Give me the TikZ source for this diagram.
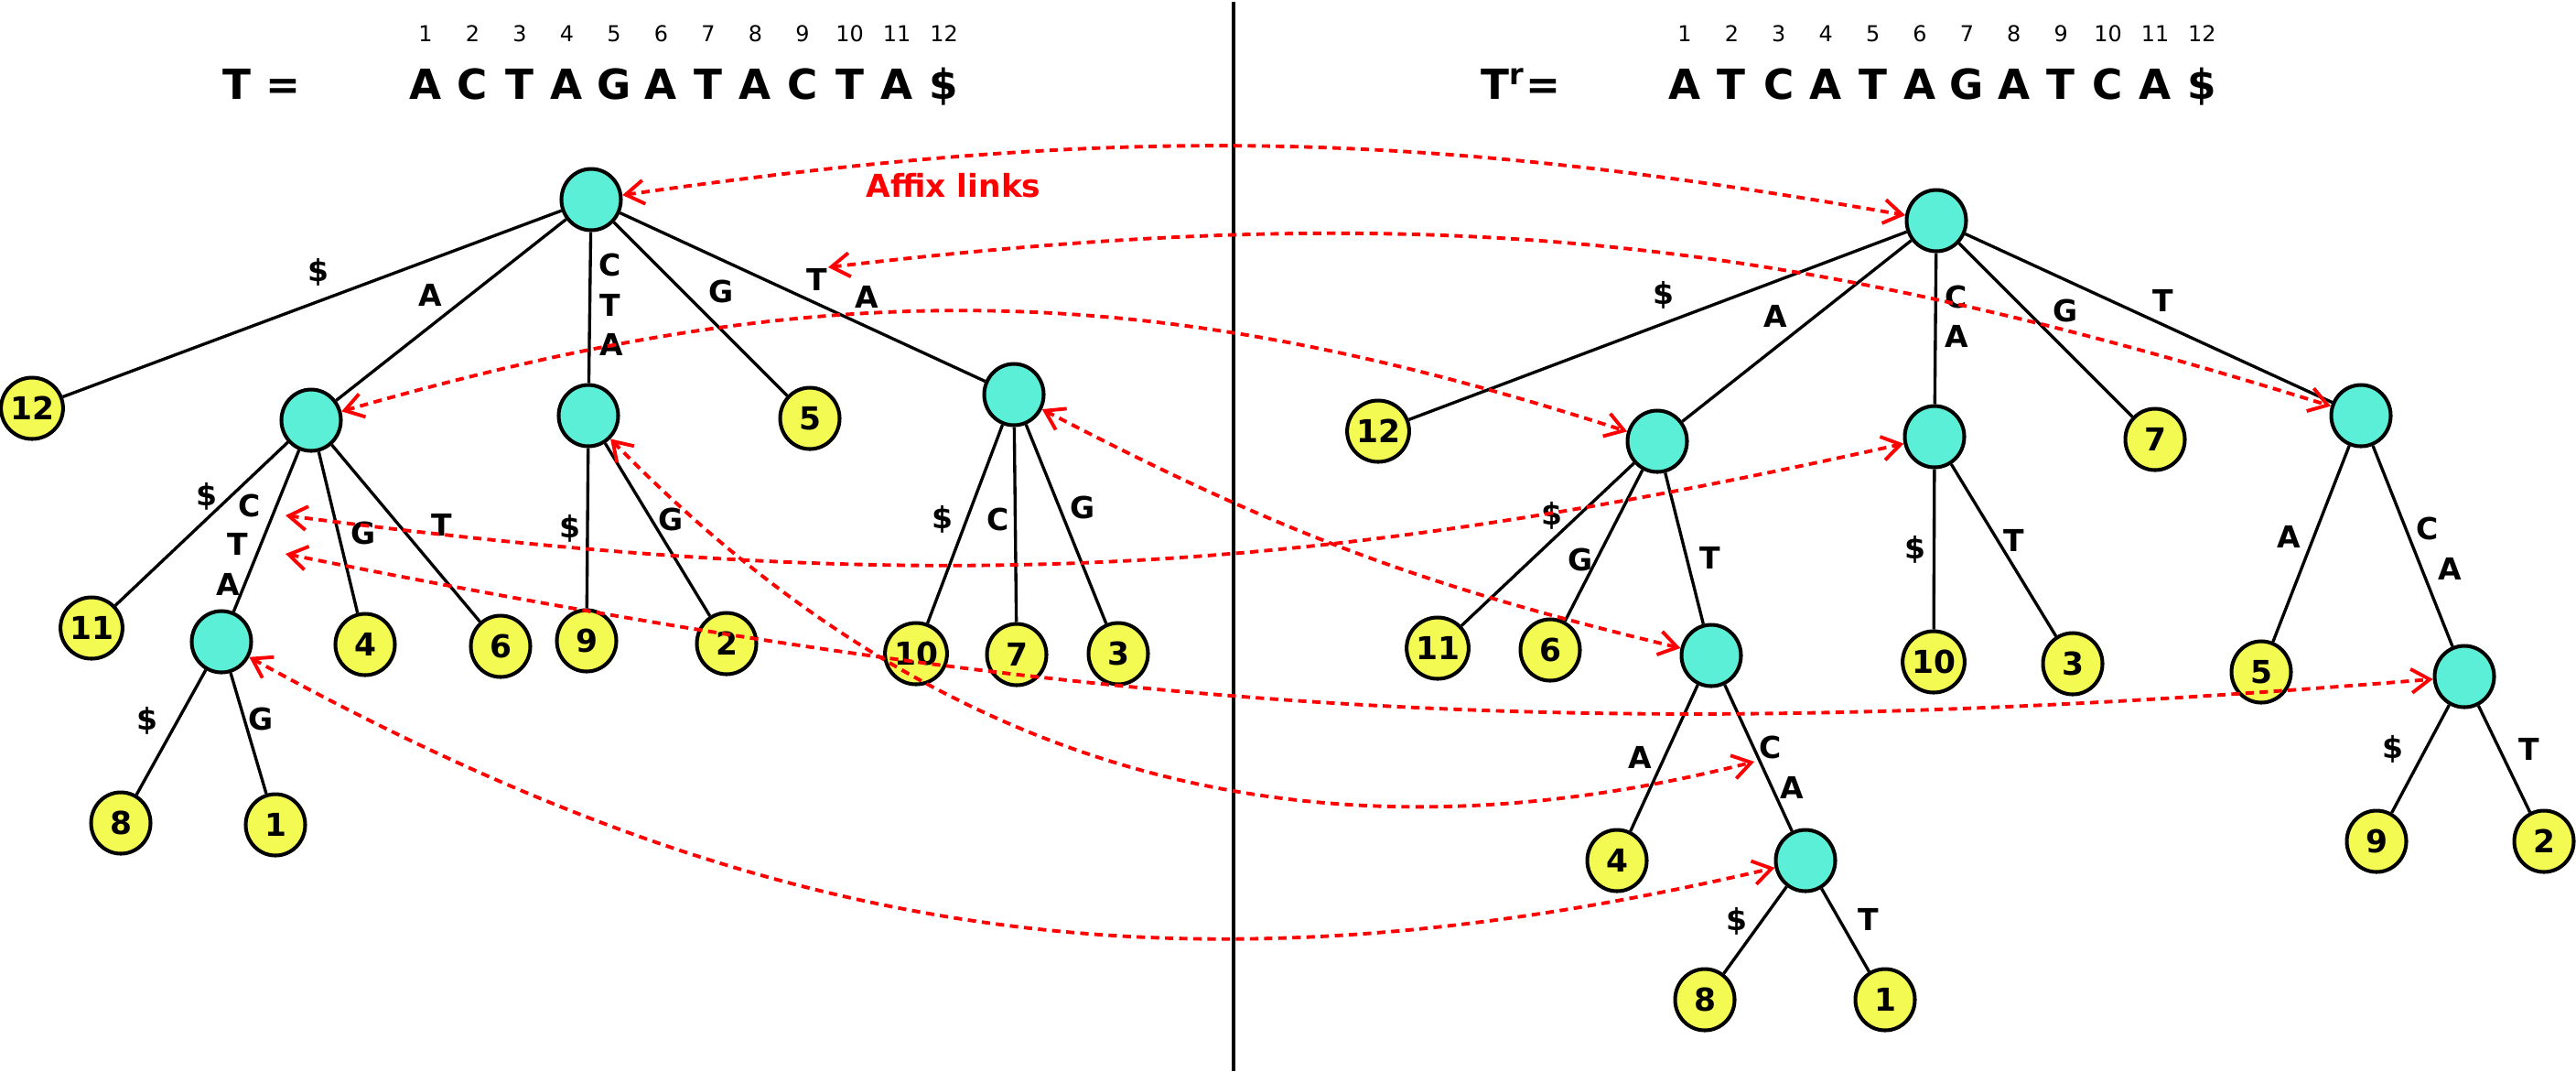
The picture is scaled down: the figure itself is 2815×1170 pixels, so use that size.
\documentclass[tikz,border=0pt]{standalone}
\usepackage{fontspec}
\setmainfont{DejaVu Sans}
\usetikzlibrary{arrows.meta, shapes.geometric}
\definecolor{knotcol}{RGB}{90,239,214}
\definecolor{leafcol}{RGB}{243,250,82}
\tikzset{
  knot/.style={ellipse, draw, line width=1.15pt, fill=knotcol, minimum width=6.5mm, minimum height=6.7mm, inner sep=0pt},
  leaf/.style={knot, fill=leafcol, font=\fontsize{9.8pt}{11pt}\selectfont\bfseries, text height=7.1pt, text depth=0pt},
  branch/.style={line width=0.95pt},
  lbl/.style={inner sep=0pt, font=\fontsize{9.4pt}{11pt}\selectfont\bfseries, text height=6.85pt, text depth=0pt},
  head/.style={anchor=base, inner sep=0pt, font=\fontsize{12.9pt}{15pt}\selectfont\bfseries},
  idx/.style={anchor=base, inner sep=0pt, font=\fontsize{6.8pt}{8pt}\selectfont},
  affix/.style={<->, red, line width=1.1pt, dash pattern=on 2.6pt off 1.8pt}
}

\begin{document}
\begin{tikzpicture}[x=0.1mm, y=-0.1mm, >={Straight Barb[length=2mm,width=2.6mm]}]
\useasboundingbox (0,0) rectangle (2815,1170);

% strings
\node[head] (tfw) at (286,108) {T =};
\node[head] (trev) at (1662,108) {T\textsuperscript{r}=};
\foreach \c [count=\i] in {A,C,T,A,G,A,T,A,C,T,A,\$} {
  \node[head] (fw\i) at ({465+51.5*(\i-1)},108) {\c};
  \node[idx] (fwn\i) at ({465+51.5*(\i-1)},45) {\i};
}
\foreach \c [count=\i] in {A,T,C,A,T,A,G,A,T,C,A,\$} {
  \node[head] (rv\i) at ({1841+51.4*(\i-1)},108) {\c};
  \node[idx] (rvn\i) at ({1841+51.4*(\i-1)},45) {\i};
}
\node[lbl, text=red, font=\fontsize{9.8pt}{11pt}\selectfont\bfseries] (afx) at (1042,203) {Affix links};

\coordinate (divtop) at (1348,2);
\coordinate (divbot) at (1348,1170);
\draw[line width=1pt] (divtop) -- (divbot);

% tree of T
\node[knot] (lr) at (646,218) {};
\node[leaf] (l12) at (35,446) {12};
\node[knot] (la) at (340,459) {};
\node[knot] (lcta) at (643,454) {};
\node[leaf] (l5) at (885,457) {5};
\node[knot] (lta) at (1108,431) {};
\node[leaf] (l11) at (100,686) {11};
\node[knot] (lacta) at (242,701) {};
\node[leaf] (l4) at (399,704) {4};
\node[leaf] (l6) at (547,706) {6};
\node[leaf] (l9) at (641,700) {9};
\node[leaf] (l2) at (794,703) {2};
\node[leaf] (l10) at (1001,714) {10};
\node[leaf] (l7) at (1111,715) {7};
\node[leaf] (l3) at (1222,714) {3};
\node[leaf] (l8) at (132,899) {8};
\node[leaf] (l1) at (301,901) {1};

\foreach \a/\b in {lr/l12, lr/la, lr/lcta, lr/l5, lr/lta, la/l11, la/lacta, la/l4, la/l6,
    lcta/l9, lcta/l2, lta/l10, lta/l7, lta/l3, lacta/l8, lacta/l1}
  \draw[branch] (\a) -- (\b);

% tree of T^r
\node[knot] (rr) at (2116,241) {};
\node[leaf] (r12) at (1506,471) {12};
\node[knot] (ra) at (1811,482) {};
\node[knot] (rca) at (2114,477) {};
\node[leaf] (r7) at (2355,480) {7};
\node[knot] (rt) at (2580,454) {};
\node[leaf] (r11) at (1571,708) {11};
\node[leaf] (r6) at (1694,710) {6};
\node[knot] (rat) at (1870,716) {};
\node[leaf] (r10) at (2113,723) {10};
\node[leaf] (r3) at (2265,725) {3};
\node[leaf] (r5) at (2471,734) {5};
\node[knot] (rtca) at (2693,739) {};
\node[leaf] (r4) at (1767,940) {4};
\node[knot] (ratca) at (1973,940) {};
\node[leaf] (r9) at (2597,919) {9};
\node[leaf] (r2) at (2780,919) {2};
\node[leaf] (r8) at (1863,1092) {8};
\node[leaf] (r1) at (2060,1092) {1};

\foreach \a/\b in {rr/r12, rr/ra, rr/rca, rr/r7, rr/rt, ra/r11, ra/r6, ra/rat, rca/r10, rca/r3,
    rt/r5, rt/rtca, rat/r4, rat/ratca, ratca/r8, ratca/r1, rtca/r9, rtca/r2}
  \draw[branch] (\a) -- (\b);

% edge letters
\foreach \x/\y/\t [count=\i] in {348/295/\$, 470/322/A, 667/289/C, 667/333/T, 668/376/A, 788/318/G,
    893/305/T, 947/324/A, 226/540/\$, 273/552/C, 260/594/T, 249/638/A, 397/582/G, 483/573/T,
    623/575/\$, 733/567/G, 1030/565/\$, 1091/567/C, 1183/554/G, 161/785/\$, 285/785/G}
  \node[lbl] (le\i) at (\x,\y) {\t};
\foreach \x/\y/\t [count=\i] in {1818/320/\$, 1940/345/A, 2138/324/C, 2138/367/A, 2257/339/G,
    2364/328/T, 1696/561/\$, 1727/611/G, 1869/609/T, 2093/598/\$, 2201/590/T, 2501/586/A,
    2653/577/C, 2677/621/A, 1792/827/A, 1935/816/C, 1958/860/A, 1898/1004/\$, 2042/1004/T,
    2615/816/\$, 2764/818/T}
  \node[lbl] (re\i) at (\x,\y) {\t};

% affix links
\coordinate (lT) at (905,292);
\coordinate (lAC) at (312,563);
\coordinate (lACT) at (312,605);
\coordinate (rATC) at (1917,832);
\draw[affix] (lr) to[bend left=9] (rr);
\draw[affix] (lT) to[bend left=12] (rt);
\draw[affix] (la) to[bend left=17] (ra);
\draw[affix] (lAC) to[bend right=10] (rca);
\draw[affix] (lACT) to[bend right=8] (rtca);
\draw[affix] (lcta) to[bend right=30] (rATC);
\draw[affix] (lta) to[bend right=7] (rat);
\draw[affix] (lacta) to[bend right=21] (ratca);
\end{tikzpicture}
\end{document}
